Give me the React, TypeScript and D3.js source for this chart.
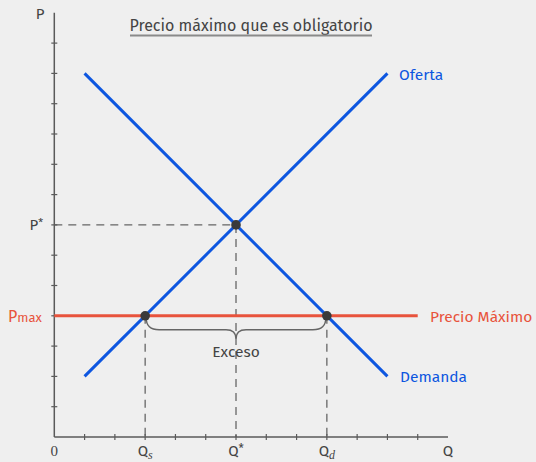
import React, { useEffect } from "react";
import * as d3 from "d3";

const W = 536;
const H = 462;

const qTicks = [1, 2, 3, 4, 5, 6, 7, 8, 9, 10, 11, 12];
const pTicks = [1, 2, 3, 4, 5, 6, 7, 8, 9, 10, 11, 12, 13];
const supplyQ = [1, 11];
const supplyP = [2, 12];
const demandQ = [1, 11];
const demandP = [12, 2];
const equilibrium = { q: 6, p: 7 };
const pMax = 4;
const qS = 3;
const qD = 9;
const qMaxAxis = 13;
const pMaxAxis = 14;
const ceilingEnd = 12;

const BLUE = "#0d56e0";
const RED = "#e8533c";
const AXIS = "#5a5a5a";
const TEXT = "#444444";
const FONT = "'Fira Sans', Lato, 'Open Sans', sans-serif";

export default function App() {
  useEffect(() => {
    document.body.style.margin = "0";
  }, []);

  const x = d3.scaleLinear().domain([0, qMaxAxis]).range([54.3, 448]);
  const y = d3.scaleLinear().domain([0, pMaxAxis]).range([437, 12.8]);
  const line = d3
    .line<[number, number]>()
    .x((d) => x(d[0]))
    .y((d) => y(d[1]));

  const supply: [number, number][] = supplyQ.map((q, i) => [q, supplyP[i]]);
  const demand: [number, number][] = demandQ.map((q, i) => [q, demandP[i]]);

  const x1 = x(qS) + 1;
  const x2 = x(qD) - 1;
  const xm = x(equilibrium.q);
  const yTop = y(pMax) + 2;
  const yMid = y(pMax) + 14;
  const yTip = y(pMax) + 23;
  const brace = `M${x1},${yTop} Q${x1},${yMid} ${x1 + 13},${yMid} L${xm - 10},${yMid} Q${xm},${yMid} ${xm},${yTip} Q${xm},${yMid} ${xm + 10},${yMid} L${x2 - 13},${yMid} Q${x2},${yMid} ${x2},${yTop}`;

  const bottomY = 456;

  return (
    <svg width={W} height={H} style={{ display: "block", background: "#efefef" }} fontFamily={FONT}>
      <rect width={W} height={H} fill="#efefef" />

      {/* title */}
      <text x={251} y={31} textAnchor="middle" fontSize={16} fill={TEXT}>
        Precio máximo que es obligatorio
      </text>
      <line x1={130} x2={372} y1={35.5} y2={35.5} stroke="#8a8a8a" strokeWidth={2} />

      {/* dashed guides */}
      <g stroke="#666" strokeWidth={1.3} strokeDasharray="8,6" fill="none">
        <line x1={x(0)} x2={x(equilibrium.q)} y1={y(equilibrium.p)} y2={y(equilibrium.p)} />
        <line x1={x(equilibrium.q)} x2={x(equilibrium.q)} y1={y(equilibrium.p)} y2={y(0)} />
        <line x1={x(qS)} x2={x(qS)} y1={y(pMax)} y2={y(0)} />
        <line x1={x(qD)} x2={x(qD)} y1={y(pMax)} y2={y(0)} />
      </g>

      {/* axes */}
      <g stroke={AXIS} strokeWidth={1.5}>
        <line x1={x(0)} x2={x(0)} y1={y(pMaxAxis)} y2={y(0)} />
        <line x1={x(0)} x2={x(qMaxAxis)} y1={y(0)} y2={y(0)} />
        {qTicks.map((t) => (
          <line key={"q" + t} x1={x(t)} x2={x(t)} y1={y(0) - 3} y2={y(0) + 3} strokeWidth={1.2} />
        ))}
        {pTicks.map((t) => (
          <line key={"p" + t} x1={x(0) - 3} x2={x(0) + 3} y1={y(t)} y2={y(t)} strokeWidth={1.2} />
        ))}
      </g>

      {/* brace */}
      <path d={brace} fill="none" stroke="#666" strokeWidth={1.4} />
      <text x={xm} y={357} textAnchor="middle" fontSize={15.5} fill={TEXT}>
        Exceso
      </text>

      {/* price ceiling */}
      <line x1={x(0)} x2={x(ceilingEnd)} y1={y(pMax)} y2={y(pMax)} stroke={RED} strokeWidth={3} />

      {/* curves */}
      <path d={line(supply) || ""} stroke={BLUE} strokeWidth={3} fill="none" />
      <path d={line(demand) || ""} stroke={BLUE} strokeWidth={3} fill="none" />

      {/* points */}
      <g fill="#3a3a3a">
        <circle cx={x(equilibrium.q)} cy={y(equilibrium.p)} r={4.8} />
        <circle cx={x(qS)} cy={y(pMax)} r={4.8} />
        <circle cx={x(qD)} cy={y(pMax)} r={4.8} />
      </g>

      {/* curve labels */}
      <text x={399} y={80} fontSize={15.5} fill={BLUE}>Oferta</text>
      <text x={400} y={382} fontSize={15.5} fill={BLUE}>Demanda</text>
      <text x={430} y={322} fontSize={15.5} fill={RED}>Precio Máximo</text>

      {/* axis labels */}
      <text x={40} y={19} textAnchor="middle" fontSize={15} fill={TEXT}>P</text>
      <text x={448} y={bottomY} textAnchor="middle" fontSize={15} fill={TEXT}>Q</text>
      <text x={x(0)} y={bottomY} textAnchor="middle" fontSize={15} fill={TEXT} fontFamily="'Liberation Serif', serif">0</text>
      <text x={x(qS)} y={bottomY} textAnchor="middle" fontSize={15} fill={TEXT}>
        Q<tspan fontFamily="'Liberation Serif', serif" fontStyle="italic" fontSize={12} dy={2.5}>s</tspan>
      </text>
      <text x={x(equilibrium.q)} y={bottomY} textAnchor="middle" fontSize={15} fill={TEXT}>
        Q<tspan fontSize={12} dy={-3}>*</tspan>
      </text>
      <text x={x(qD)} y={bottomY} textAnchor="middle" fontSize={15} fill={TEXT}>
        Q<tspan fontFamily="'Liberation Serif', serif" fontStyle="italic" fontSize={12} dy={2.5}>d</tspan>
      </text>
      <text x={43} y={230} textAnchor="end" fontSize={15} fill={TEXT}>
        P<tspan fontSize={11} dy={-4}>*</tspan>
      </text>
      <text x={8} y={322} fontSize={16} fill={RED}>
        P<tspan fontSize={13}>max</tspan>
      </text>
    </svg>
  );
}
